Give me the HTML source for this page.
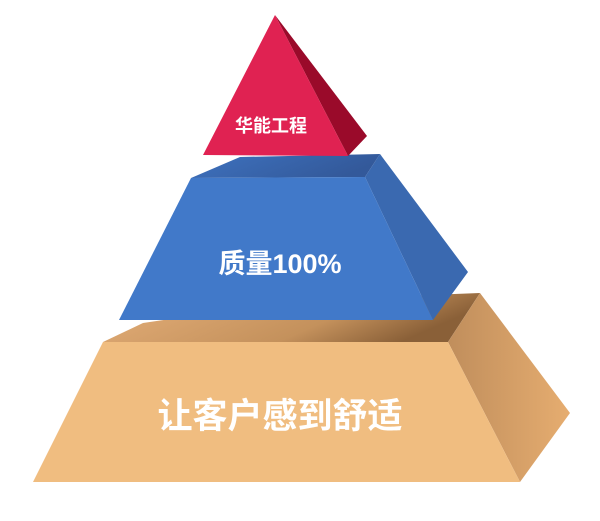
<!DOCTYPE html>
<html><head><meta charset="utf-8"><style>
html,body{margin:0;padding:0;background:#fff;}
svg{display:block;}
text{font-family:"Liberation Sans","Noto Sans CJK SC",sans-serif;font-weight:bold;fill:#fff;}
</style></head><body>
<svg width="600" height="521" viewBox="0 0 600 521" xmlns="http://www.w3.org/2000/svg">
<defs>
<linearGradient id="tt" x1="0" y1="0" x2="1" y2="0.3">
<stop offset="0" stop-color="#e6b07a"/><stop offset="0.7" stop-color="#c4915c"/><stop offset="1" stop-color="#8a6038"/></linearGradient>
<linearGradient id="ts" x1="0" y1="0" x2="1" y2="0">
<stop offset="0" stop-color="#c08e5c"/><stop offset="1" stop-color="#e6ad70"/></linearGradient>
<linearGradient id="bt" x1="0" y1="0" x2="1" y2="0.3">
<stop offset="0" stop-color="#3e72bf"/><stop offset="1" stop-color="#33599a"/></linearGradient>
</defs>
<polygon points="103,342 143,323 300,300 480,293 448,342" fill="url(#tt)"/>
<polygon points="448,342 480,293 570,413 520,482" fill="url(#ts)"/>
<polygon points="103,342 448,342 520,482 33,482" fill="#f0bd80"/>
<polygon points="191,178 240,157 380,154 365,177" fill="url(#bt)"/>
<polygon points="365,177 380,154 468,272 433,320" fill="#3a69b0"/>
<polygon points="191,178 365,177 433,320 119,320" fill="#4179c9"/>
<polygon points="275,15 367,136 348,156" fill="#9a0a2a"/>
<polygon points="275,15 348,156 203,155" fill="#e02252"/>
<text x="271" y="132" font-size="18" text-anchor="middle">华能工程</text>
<text x="280" y="273" font-size="27" text-anchor="middle">质量100%</text>
<text x="280" y="428" font-size="35" text-anchor="middle">让客户感到舒适</text>
</svg>
</body></html>
